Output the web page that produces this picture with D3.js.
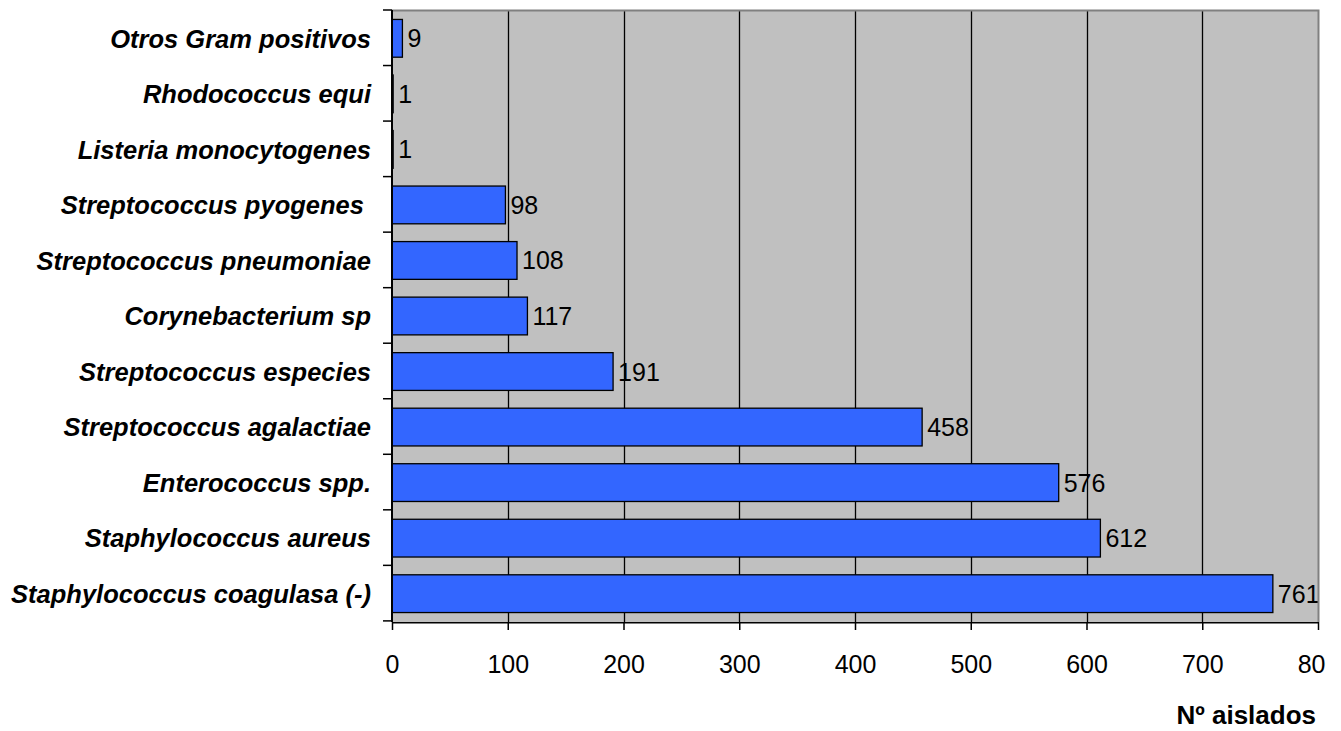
<!DOCTYPE html>
<html>
<head>
<meta charset="utf-8">
<script src="https://cdn.jsdelivr.net/npm/d3@7"></script>
<style>
  body { margin: 0; background: #fff; }
  svg { display: block; font-family: "Liberation Sans", Arial, sans-serif; }
</style>
</head>
<body>
<svg id="chart"></svg>
<script>
// categories from top to bottom, as drawn
var categories = [
  'Otros Gram positivos',
  'Rhodococcus equi',
  'Listeria monocytogenes',
  'Streptococcus pyogenes ',
  'Streptococcus pneumoniae',
  'Corynebacterium sp',
  'Streptococcus especies',
  'Streptococcus agalactiae',
  'Enterococcus spp.',
  'Staphylococcus aureus',
  'Staphylococcus coagulasa (-)'
];
var values = [9, 1, 1, 98, 108, 117, 191, 458, 576, 612, 761];
var xTicks = [0, 100, 200, 300, 400, 500, 600, 700, 800];
var xTitle = 'Nº aislados';

var width = 1341, height = 731;
var margin = {top: 10, right: 23, bottom: 109, left: 392};
var fontSize = 25;

var svg = d3.select('#chart').attr('width', width).attr('height', height);

var x = d3.scaleLinear().domain([0, 800]).range([margin.left, width - margin.right]);
var y = d3.scaleBand().domain(categories)
  .range([margin.top, height - margin.bottom])
  .paddingInner(0.32).paddingOuter(0.17);

// plot background
svg.append('rect')
  .attr('x', x(0)).attr('y', margin.top)
  .attr('width', x(800) - x(0)).attr('height', height - margin.bottom - margin.top)
  .attr('fill', '#c0c0c0');

// vertical gridlines
svg.append('g')
  .selectAll('line')
  .data(xTicks.slice(1, -1))
  .enter()
    .append('line')
    .attr('x1', function(d){ return Math.round(x(d)) + 0.5; })
    .attr('x2', function(d){ return Math.round(x(d)) + 0.5; })
    .attr('y1', margin.top)
    .attr('y2', height - margin.bottom)
    .attr('stroke', '#000').attr('stroke-width', 1.3);

// bars
svg.append('g')
  .selectAll('rect')
  .data(values)
  .enter()
    .append('rect')
    .attr('x', x(0))
    .attr('y', function(d, i){ return y(categories[i]); })
    .attr('width', function(d){ return x(d) - x(0); })
    .attr('height', y.bandwidth())
    .attr('fill', '#3366ff')
    .attr('stroke', '#000').attr('stroke-width', 1.3);

// value labels, cut at the plot edge like the original
svg.append('clipPath').attr('id', 'plotclip')
  .append('rect').attr('x', 0).attr('y', 0).attr('width', x(800)).attr('height', height);

svg.append('g')
  .attr('clip-path', 'url(#plotclip)')
  .selectAll('text')
  .data(values)
  .enter()
    .append('text')
    .attr('x', function(d){ return x(d) + 5; })
    .attr('y', function(d, i){ return y(categories[i]) + y.bandwidth() / 2; })
    .attr('dy', '0.36em')
    .attr('font-size', fontSize)
    .attr('fill', '#000')
    .text(function(d){ return d; });

// grey frame on top and right
svg.append('path')
  .attr('d', 'M' + x(0) + ',' + (margin.top + 0.5) + 'H' + (x(800) + 0.5) + 'V' + (height - margin.bottom))
  .attr('fill', 'none').attr('stroke', '#808080').attr('stroke-width', 2);

// x axis (last label is cut by the page edge in the original)
svg.append('clipPath').attr('id', 'xclip')
  .append('rect').attr('x', 0).attr('y', 0).attr('width', 1326).attr('height', height);

var xAxis = svg.append('g')
  .attr('transform', 'translate(0,' + (height - margin.bottom) + ')')
  .attr('clip-path', 'url(#xclip)')
  .call(d3.axisBottom(x).tickValues(xTicks).tickSize(8).tickPadding(25).tickSizeOuter(0));
xAxis.select('.domain').attr('stroke', '#000').attr('stroke-width', 2);
xAxis.selectAll('.tick line').attr('stroke', '#000').attr('stroke-width', 1.5);
xAxis.selectAll('text')
  .attr('font-size', fontSize)
  .attr('font-family', '"Liberation Sans", Arial, sans-serif')
  .attr('fill', '#000');

// y axis: ticks sit on the category boundaries
var yAxis = svg.append('g').attr('transform', 'translate(' + x(0) + ',0)');
yAxis.append('line')
  .attr('y1', margin.top).attr('y2', height - margin.bottom)
  .attr('stroke', '#000').attr('stroke-width', 2);
var step = y.step();
yAxis.selectAll('line.tick')
  .data(d3.range(categories.length + 1))
  .enter()
    .append('line').attr('class', 'tick')
    .attr('x1', -9).attr('x2', 0)
    .attr('y1', function(i){ return margin.top + i * step; })
    .attr('y2', function(i){ return margin.top + i * step; })
    .attr('stroke', '#000').attr('stroke-width', 1.5);
yAxis.selectAll('text')
  .data(categories)
  .enter()
    .append('text')
    .attr('x', -21)
    .attr('y', function(d){ return y(d) + y.bandwidth() / 2; })
    .attr('dy', '0.36em')
    .attr('text-anchor', 'end')
    .attr('font-size', 25.5)
    .attr('font-weight', 'bold')
    .attr('font-style', 'italic')
    .style('white-space', 'pre')
    .text(function(d){ return d; });

// axis title
svg.append('text')
  .attr('x', 1316).attr('y', 724)
  .attr('text-anchor', 'end')
  .attr('font-size', 26)
  .attr('font-weight', 'bold')
  .text(xTitle);
</script>
</body>
</html>
